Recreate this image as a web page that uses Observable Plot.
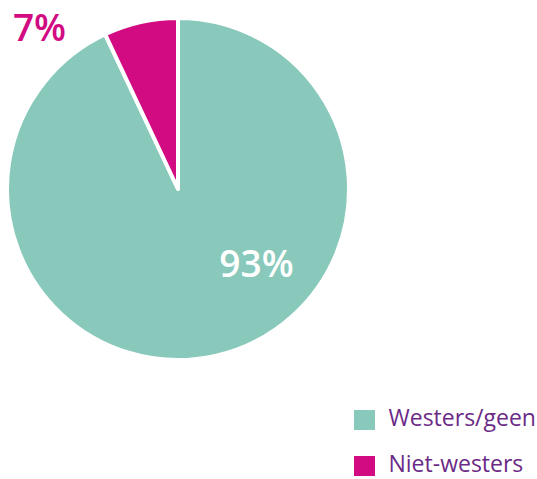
<!DOCTYPE html>
<html><head><meta charset="utf-8">
<script src="https://cdn.jsdelivr.net/npm/d3@7"></script>
<script src="https://cdn.jsdelivr.net/npm/@observablehq/plot@0.6"></script>
<style>body{margin:0;background:#fff;} svg{display:block;}</style>
</head><body><div id="chart"></div>
<script>
const categories = ["Westers/geen", "Niet-westers"];
const values = [93, 7];
const labels = ["93%", "7%"];
const colors = ["#88c9bb", "#d20b82"];

const W = 537, H = 479;
const cx = 178, cy = 189, R = 171;
const data = categories.map((c, i) => ({category: c, value: values[i], label: labels[i], color: colors[i]}));
const pie = d3.pie().value(d => d.value).sort(null)(data);

function pieMark(index, scales) {
  const g = d3.create("svg:g");
  const x0 = scales.x ? scales.x(cx) : cx, y0 = scales.y ? scales.y(cy) : cy;
  const arc = d3.arc().innerRadius(0).outerRadius(R);
  g.selectAll("path").data(pie).join("path")
    .attr("transform", `translate(${x0},${y0})`)
    .attr("d", arc)
    .attr("fill", d => d.data.color)
    .attr("stroke", "#fff")
    .attr("stroke-width", 4)
    .attr("stroke-linejoin", "round");
  return g.node();
}

const inner = data[0];
const outer = data[1];
const legend = data.map((d, i) => ({...d, ly: 420 + i * 46}));

const chart = Plot.plot({
  width: W, height: H,
  margin: 0,
  x: {domain: [0, W], range: [0, W], axis: null},
  y: {domain: [0, H], range: [0, H], axis: null},
  style: {fontFamily: "'Open Sans', sans-serif"},
  marks: [
    pieMark,
    Plot.text([inner], {
      x: () => cx, y: () => cy, text: "label",
      dx: 78, dy: 76,
      fill: "#fff", fontSize: 37, fontWeight: 600, textAnchor: "middle"
    }),
    Plot.text([outer], {
      x: () => cx, y: () => cy, text: "label",
      dx: -139, dy: -160,
      fill: d => d.color, fontSize: 37, fontWeight: 600, textAnchor: "middle"
    }),
    Plot.rect(legend, {
      x1: () => 354, x2: () => 375, y1: d => d.ly - 10, y2: d => d.ly + 10, fill: d => d.color
    }),
    Plot.text(legend, {
      x: () => 388, y: "ly", text: "category", textAnchor: "start",
      fill: "#6b2b87", fontSize: 23, dy: -2
    })
  ]
});
document.getElementById("chart").appendChild(chart);
</script></body></html>
